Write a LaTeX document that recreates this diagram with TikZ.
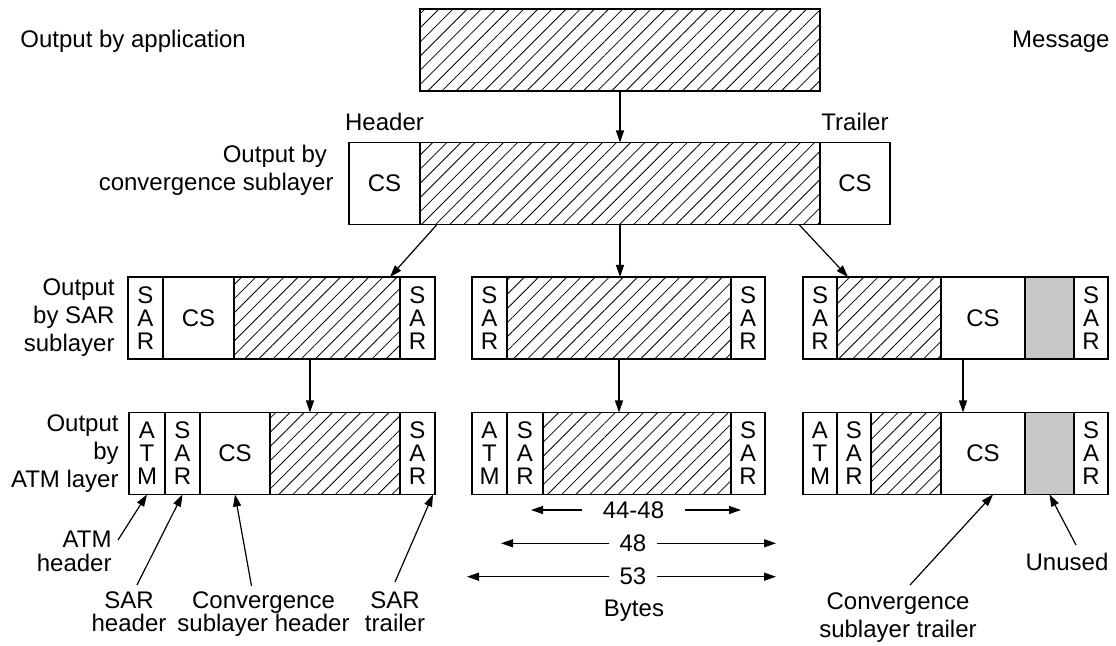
\documentclass[tikz,border=0pt]{standalone}
\usepackage{fontspec}
\setmainfont{Liberation Sans}
\usepackage{tikz}
\usetikzlibrary{arrows.meta,positioning,patterns.meta}
\definecolor{PadGray}{HTML}{C8C8C8}

\begin{document}
\begin{tikzpicture}[
    x=0.5pt, y=-0.5pt,
    font=\fontsize{12pt}{14pt}\selectfont,
    cell/.style={rectangle, draw, line width=0.8pt, inner sep=0pt, outer sep=0pt, minimum height=41pt, align=center, font=\fontsize{12pt}{11.5pt}\selectfont},
    sarbox/.style={cell, minimum width=17.5pt},
    databox/.style={cell, pattern={Lines[angle=45, distance=5pt, line width=0.4pt]}},
    padbox/.style={cell, fill=PadGray},
    lbl/.style={inner sep=0pt, align=right},
    note/.style={inner sep=0pt, align=center, font=\fontsize{12pt}{11.7pt}\selectfont},
    dim/.style={inner sep=0pt, inner xsep=5pt},
    arrow/.style={-{Triangle[length=6pt, width=4pt]}, line width=0.6pt}
]
\useasboundingbox (0,0) rectangle (1116,646);

% message
\node[databox, minimum width=200pt, anchor=west] (msg) at (420,50) {};
\node[lbl, anchor=base west] (applbl) at (20,47.3) {Output by application};
\node[lbl, anchor=base east] (msglbl) at (1110,47.3) {Message};

% convergence sublayer
\node[cell, minimum width=35.5pt, anchor=west] (cshd) at (349,183.5) {CS};
\node[databox, minimum width=200pt, right=0pt of cshd] (csdata) {};
\node[cell, minimum width=35pt, right=0pt of csdata] (cstr) {CS};
\node[lbl, above=5.5pt of cshd] (hdlbl) {Header};
\node[lbl, above=5.5pt of cstr] (trlbl) {Trailer};
\node[lbl, left=7.5pt of cshd, yshift=6.75pt] (cslbl) {Output by\hspace*{0.28em}\\convergence sublayer};

% SAR sublayer
\node[sarbox, anchor=west] (l1sar) at (128,318) {S\\A\\R};
\node[cell, minimum width=35.5pt, right=0pt of l1sar] (l1cs) {CS};
\node[databox, minimum width=83pt, right=0pt of l1cs] (l1data) {};
\node[sarbox, right=0pt of l1data] (l1trl) {S\\A\\R};

\node[sarbox, anchor=west] (m1sar) at (472,318) {S\\A\\R};
\node[databox, minimum width=112pt, right=0pt of m1sar] (m1data) {};
\node[sarbox, minimum width=17pt, right=0pt of m1data] (m1trl) {S\\A\\R};

\node[sarbox, minimum width=17pt, anchor=west] (r1sar) at (803,318) {S\\A\\R};
\node[databox, minimum width=52pt, right=0pt of r1sar] (r1data) {};
\node[cell, minimum width=42pt, right=0pt of r1data] (r1cs) {CS};
\node[padbox, minimum width=24.5pt, right=0pt of r1cs] (r1pad) {};
\node[sarbox, minimum width=17pt, right=0pt of r1pad] (r1trl) {S\\A\\R};

\node[lbl, left=6.5pt of l1sar] (sarlbl) {Output\\by SAR\\sublayer};

% ATM layer
\node[sarbox, minimum width=18pt, anchor=west] (l2atm) at (129,453.5) {A\\T\\M};
\node[sarbox, right=0pt of l2atm] (l2sar) {S\\A\\R};
\node[cell, minimum width=35pt, right=0pt of l2sar] (l2cs) {CS};
\node[databox, minimum width=65pt, right=0pt of l2cs] (l2data) {};
\node[sarbox, right=0pt of l2data] (l2trl) {S\\A\\R};

\node[sarbox, anchor=west] (m2atm) at (472,453.5) {A\\T\\M};
\node[sarbox, minimum width=18pt, right=0pt of m2atm] (m2sar) {S\\A\\R};
\node[databox, minimum width=94pt, right=0pt of m2sar] (m2data) {};
\node[sarbox, minimum width=17pt, right=0pt of m2data] (m2trl) {S\\A\\R};

\node[sarbox, minimum width=17pt, anchor=west] (r2atm) at (803,453.5) {A\\T\\M};
\node[sarbox, minimum width=17pt, right=0pt of r2atm] (r2sar) {S\\A\\R};
\node[databox, minimum width=35pt, right=0pt of r2sar] (r2data) {};
\node[cell, minimum width=42pt, right=0pt of r2data] (r2cs) {CS};
\node[padbox, minimum width=24.5pt, right=0pt of r2cs] (r2pad) {};
\node[sarbox, minimum width=17pt, right=0pt of r2pad] (r2trl) {S\\A\\R};

\node[lbl, left=5pt of l2atm] (atmlbl) {Output\\by\hspace*{0.28em}\\ATM layer};

% flow between layers
\draw[arrow] (msg) -- (msg |- csdata.north);
\draw[arrow] ([xshift=8.5pt]csdata.south west) -- ([xshift=-5pt]l1data.north east);
\draw[arrow] (csdata) -- (csdata |- m1data.north);
\draw[arrow] ([xshift=-10.5pt]csdata.south east) -- ([xshift=5.5pt]r1data.north west);
\draw[arrow] ([xshift=38pt]l1data.south west) -- ([xshift=20pt]l2data.north west);
\draw[arrow] (m1data) -- (m1data |- m2data.north);
\draw[arrow] ([xshift=11pt]r1cs.south west) -- ([xshift=11pt]r2cs.north west);

% field names
\node[note, anchor=north east, align=right] (atmnote) at (112,531) {ATM\\header};
\node[note, anchor=north] (sarnote) at (129,591) {SAR\\header};
\node[note, anchor=north] (cshdnote) at (263.5,591) {Convergence\\sublayer header};
\node[note, anchor=north] (sartrnote) at (395,591) {SAR\\trailer};
\node[note, anchor=north, font=\fontsize{12pt}{14.2pt}\selectfont] (cstrnote) at (898,592) {Convergence\\sublayer trailer};
\node[note, anchor=north] (unusednote) at (1067,553) {Unused};

\draw[arrow] ([shift={(3pt,-4.5pt)}]atmnote.north east) -- (l2atm.south);
\draw[arrow] ([shift={(4pt,3pt)}]sarnote.north) -- (l2sar.south);
\draw[arrow] ([shift={(-6pt,2.5pt)}]cshdnote.north) -- (l2cs.south);
\draw[arrow] ([yshift=4.5pt]sartrnote.north) -- ([xshift=-1pt]l2trl.south east);
\draw[arrow] ([shift={(6pt,3.5pt)}]cstrnote.north) -- ([xshift=5pt]r2cs.south);
\draw[arrow] ([shift={(4.5pt,4pt)}]unusednote.north) -- (r2pad.south);

% sizes in bytes
\node[dim, inner xsep=10pt] (d4448) at (633.5,510) {44-48};
\node[dim] (d48) at (633,543.3) {48};
\node[dim] (d53) at (633,576.7) {53};
\node[note, anchor=north] (bytes) at (634,600) {Bytes};
\coordinate (d4448l) at (531,510);
\coordinate (d4448r) at (741,510);
\coordinate (d48l) at (501,543.3);
\coordinate (d48r) at (776,543.3);
\coordinate (d53l) at (467,576.7);
\coordinate (d53r) at (776,576.7);
\draw[arrow] (d4448) -- (d4448l);
\draw[arrow] (d4448) -- (d4448r);
\draw[arrow] (d48) -- (d48l);
\draw[arrow] (d48) -- (d48r);
\draw[arrow] (d53) -- (d53l);
\draw[arrow] (d53) -- (d53r);
\end{tikzpicture}
\end{document}
